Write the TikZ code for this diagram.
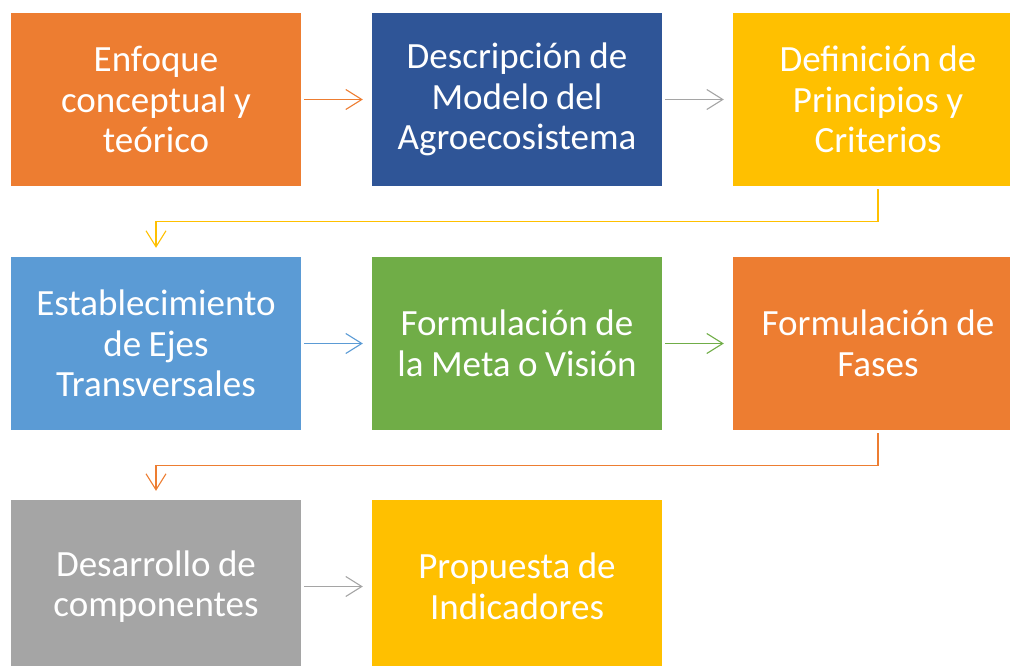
\documentclass[tikz,border=0pt]{standalone}
\usepackage{fontspec}
\setmainfont{Carlito}
\usetikzlibrary{arrows.meta}
\definecolor{cOrange}{HTML}{ED7D31}
\definecolor{cDarkBlue}{HTML}{2F5597}
\definecolor{cGold}{HTML}{FFC000}
\definecolor{cBlue}{HTML}{5B9BD5}
\definecolor{cGreen}{HTML}{70AD47}
\definecolor{cGray}{HTML}{A5A5A5}
\tikzset{
  box/.style={fill=#1, draw=none, minimum width=290pt, minimum height=173pt,
    inner sep=0pt, text width=290pt, align=center, text=white,
    font=\fontsize{37}{40.5}\selectfont,
    execute at begin node={\spaceskip=7.5pt\relax}},
  conn/.style={draw=#1, line width=1.1pt,
    -{Straight Barb[length=16pt, width=20pt, line width=1.1pt]}},
}
\begin{document}
\begin{tikzpicture}[x=1pt,y=-1pt]
\useasboundingbox (0,0) rectangle (1010,666);
\begin{scope}
\clip (0,0) rectangle (1010,666);
\node[box=cOrange]   (a) at (156,99.5) {Enfoque\\conceptual y\\teórico};
\node[box=cDarkBlue] (b) at (517,99.5) {Descripción de\\Modelo del\\Agroecosistema};
\node[box=cGold]     (c) at (878,99.5) {Definición de\\Principios y\\Criterios};
\node[box=cBlue]     (d) at (156,343.5) {Establecimiento\\de Ejes\\Transversales};
\node[box=cGreen]    (e) at (517,343.5) {Formulación de\\la Meta o Visión};
\node[box=cOrange]   (f) at (878,343.5) {Formulación de\\Fases};
\node[box=cGray]     (g) at (156,586.5) {Desarrollo de\\componentes};
\node[box=cGold]     (h) at (517,586.5) {Propuesta de\\Indicadores};
\end{scope}
\draw[conn=cOrange, shorten <=3pt, shorten >=9pt] (a) -- (b);
\draw[conn=cGray, shorten <=3pt, shorten >=9pt] (b) -- (c);
\draw[conn=cGold] ([yshift=-3pt]c.south) -- ++(0,32) -| ([yshift=9pt]d.north);
\draw[conn=cBlue, shorten <=3pt, shorten >=9pt] (d) -- (e);
\draw[conn=cGreen, shorten <=3pt, shorten >=9pt] (e) -- (f);
\draw[conn=cOrange] ([yshift=-3pt]f.south) -- ++(0,32) -| ([yshift=9pt]g.north);
\draw[conn=cGray, shorten <=3pt, shorten >=9pt] (g) -- (h);
\end{tikzpicture}
\end{document}
